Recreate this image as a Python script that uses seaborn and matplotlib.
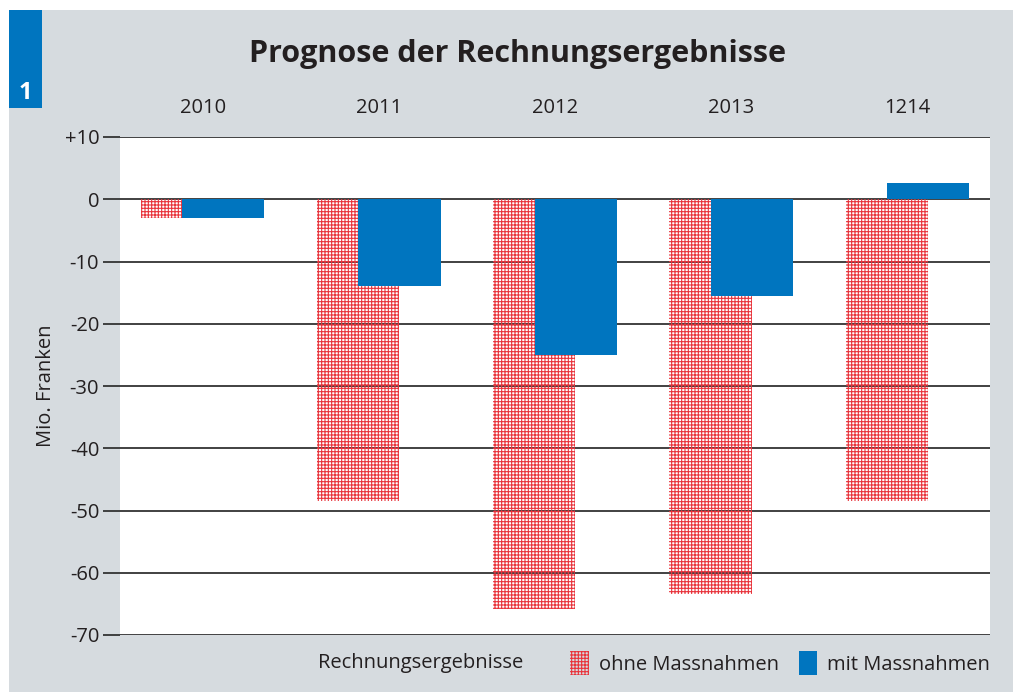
import matplotlib
matplotlib.use("Agg")
import matplotlib.pyplot as plt
from matplotlib.patches import Patch, Rectangle
import numpy as np
import pandas as pd
import seaborn as sns

# --- data ---
years = ["2010", "2011", "2012", "2013", "1214"]
ohne_massnahmen = [-3.0, -48.5, -65.8, -63.4, -48.5]
mit_massnahmen = [-3.0, -14.0, -25.0, -15.6, 2.6]
y_ticks = [10, 0, -10, -20, -30, -40, -50, -60, -70]
y_tick_labels = ["+10", "0", "-10", "-20", "-30", "-40", "-50", "-60", "-70"]

RED = "#e8343c"
BLUE = "#0075bf"
GREY_BG = "#d6dbdf"

sns.set_style("white")
plt.rcParams["font.family"] = ["Open Sans", "DejaVu Sans"]
plt.rcParams["hatch.linewidth"] = 0.8

fig = plt.figure(figsize=(10.13, 6.92), dpi=100, facecolor="white")

# grey panel + blue number box
fig.patches.append(Rectangle((9 / 1013, 0), 1 - 9 / 1013, 1 - 10 / 692,
                             transform=fig.transFigure, facecolor=GREY_BG,
                             edgecolor="none", zorder=-10))
fig.patches.append(Rectangle((9 / 1013, 1 - 108 / 692), 33 / 1013, 98 / 692,
                             transform=fig.transFigure, facecolor=BLUE,
                             edgecolor="none", zorder=-5))
fig.text(25 / 1013, 1 - 93 / 692, "1", color="white", fontsize=17,
         fontweight="bold", ha="center", va="center")

ax = fig.add_axes([120 / 1013, 1 - 635 / 692, 870 / 1013, 498 / 692])
ax.set_facecolor("white")

idx = np.arange(len(years))
df = pd.DataFrame({"pos_ohne": idx - 0.117, "pos_mit": idx + 0.117,
                   "ohne": ohne_massnahmen, "mit": mit_massnahmen})

sns.barplot(data=df, x="pos_ohne", y="ohne", native_scale=True, width=0.466,
            facecolor="none", edgecolor=RED, hatch="+++++", linewidth=0,
            ax=ax, zorder=2)
sns.barplot(data=df, x="pos_mit", y="mit", native_scale=True, width=0.466,
            color=BLUE, saturation=1, linewidth=0, ax=ax, zorder=3)

ax.set_xlim(-0.47, len(years) - 0.53)
ax.set_ylim(-70, 10)
ax.set_yticks(y_ticks)
ax.set_yticklabels(y_tick_labels, fontsize=14.5, color="#231f20")
ax.set_xticks(idx)
ax.set_xticklabels(years, fontsize=14.5, color="#231f20")
ax.xaxis.tick_top()
ax.tick_params(axis="x", length=0, pad=14)
ax.tick_params(axis="y", length=12, width=1.3, color="#333333", pad=3, left=True)
ax.grid(axis="y", color="#333333", linewidth=1.3, zorder=1)
ax.set_axisbelow(True)
ax.grid(axis="x", visible=False)
for s in ax.spines.values():
    s.set_visible(False)
ax.set_xlabel("")
ax.set_ylabel("Mio. Franken", fontsize=14.5, color="#231f20", labelpad=6)

fig.text(517 / 1013, 1 - 54 / 692, "Prognose der Rechnungsergebnisse",
         fontsize=22, fontweight="bold", color="#231f20",
         ha="center", va="center")

# legend along the bottom
fig.text(318 / 1013, 1 - 663 / 692, "Rechnungsergebnisse", fontsize=14.5,
         color="#231f20", ha="left", va="center")
handles = [Patch(facecolor="none", edgecolor=RED, hatch="+++++", linewidth=0,
                 label="ohne Massnahmen"),
           Patch(facecolor=BLUE, edgecolor="none", label="mit Massnahmen")]
fig.legend(handles=handles, loc="center right", ncol=2, frameon=False,
           bbox_to_anchor=(1008 / 1013, 1 - 663 / 692), fontsize=14.5,
           handlelength=0.9, handleheight=1.5, handletextpad=0.5,
           columnspacing=1.0, labelcolor="#231f20")

fig.savefig("out.png", dpi=100, facecolor=fig.get_facecolor())
